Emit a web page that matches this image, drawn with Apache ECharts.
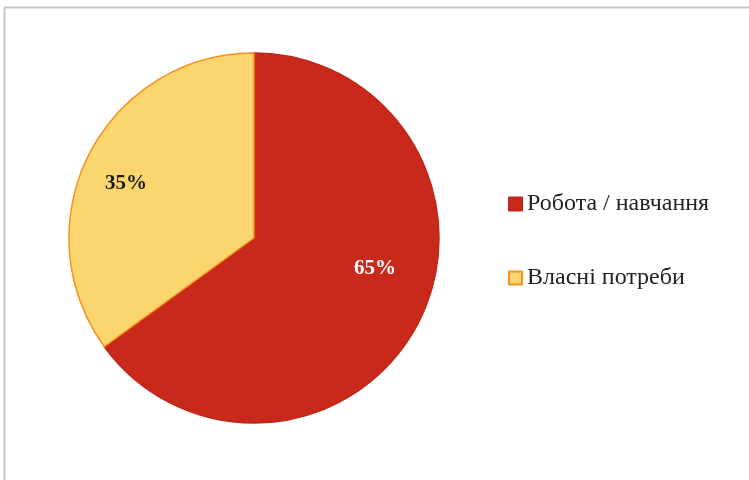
<!DOCTYPE html>
<html><head><meta charset="utf-8">
<script src="https://cdn.jsdelivr.net/npm/echarts@6/dist/echarts.min.js"></script>
<style>html,body{margin:0;padding:0;background:#fff}#c{width:749px;height:480px}</style>
</head><body><div id="c"></div>
<script>
const categories = ['Робота / навчання', 'Власні потреби'];
const values = [65, 35];
const colors = ['#C8291A', '#FBD66F'];
const borders = ['#C0261A', '#F7901E'];
const labelColors = ['#ffffff', '#1a1a1a'];
const labelOffsets = [[36, -13], [-43, -11]];

const chart = echarts.init(document.getElementById('c'), null, {renderer: 'canvas'});
chart.setOption({
  animation: false,
  backgroundColor: '#fff',
  graphic: [
    {type: 'line', shape: {x1: 4.5, y1: 7.5, x2: 749, y2: 7.5}, style: {stroke: '#c6c6c6', lineWidth: 2}},
    {type: 'line', shape: {x1: 4.5, y1: 7.5, x2: 4.5, y2: 480}, style: {stroke: '#c6c6c6', lineWidth: 2}}
  ],
  legend: {
    orient: 'vertical',
    left: 503,
    top: 187,
    icon: 'rect',
    itemWidth: 13,
    itemHeight: 13,
    itemGap: 50,
    textStyle: {fontFamily: 'Liberation Serif', fontSize: 24, color: '#222'},
    data: categories
  },
  series: [{
    type: 'pie',
    center: [254, 238],
    radius: [0, 185],
    startAngle: 90,
    clockwise: true,
    label: {
      position: 'inside',
      fontFamily: 'Liberation Serif',
      fontWeight: 'bold',
      fontSize: 21,
      formatter: '{c}%'
    },
    labelLine: {show: false},
    emphasis: {disabled: true},
    data: categories.map((n, i) => ({
      name: n,
      value: values[i],
      itemStyle: {color: colors[i], borderColor: borders[i], borderWidth: 1.5},
      label: {color: labelColors[i], offset: labelOffsets[i]}
    }))
  }]
});
</script></body></html>
